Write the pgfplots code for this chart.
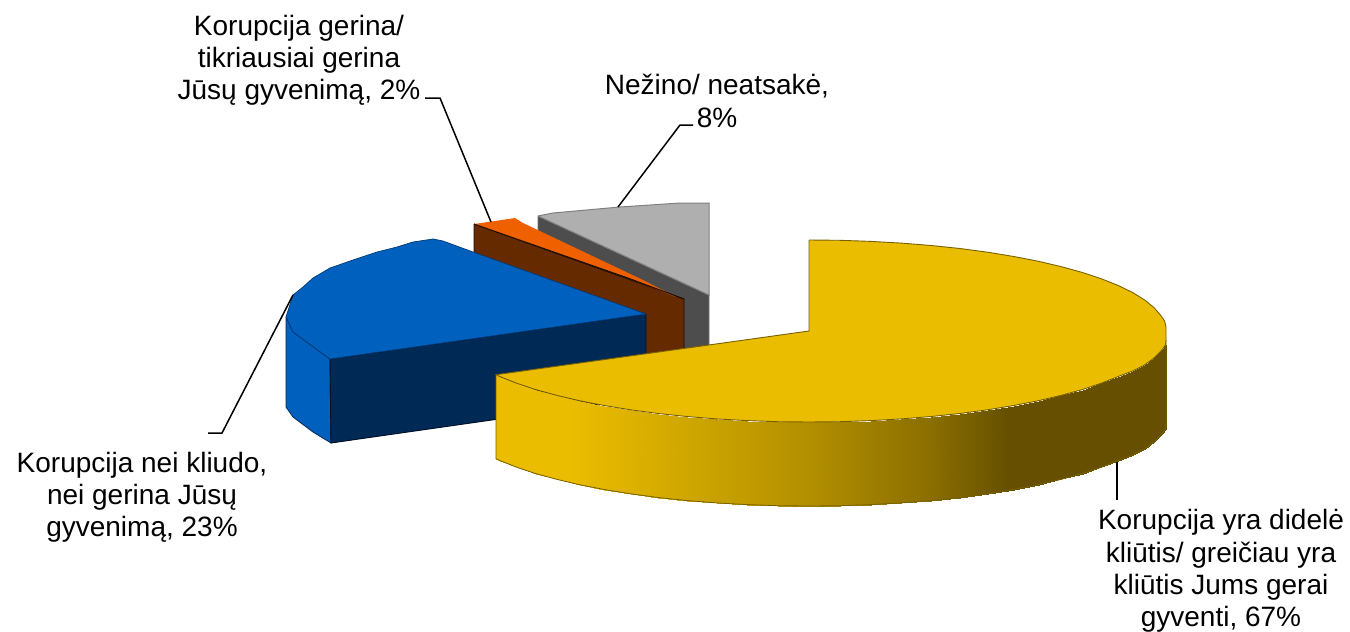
\documentclass[border=0pt]{standalone}
\usepackage{pgfplots}
\pgfplotsset{compat=1.18}
\usepackage{fontspec}
\setmainfont{Liberation Sans}
\definecolor{yel}{RGB}{235,189,0}
\definecolor{yeledge}{RGB}{120,96,0}
\definecolor{blu}{RGB}{0,96,190}
\definecolor{bludark}{RGB}{0,41,85}
\definecolor{org}{RGB}{238,96,0}
\definecolor{brn}{RGB}{102,42,0}
\definecolor{grl}{RGB}{175,175,175}
\definecolor{grd}{RGB}{77,77,77}
\tikzset{lbl/.style={font=\fontsize{28}{32.2}\selectfont, text=black, align=center, inner sep=0pt, anchor=center}}
\begin{document}
\begin{tikzpicture}
\begin{axis}[
  scale only axis, width=1350pt, height=631pt,
  xmin=0, xmax=1350, ymin=0, ymax=631, zmin=-1, zmax=1,
  y dir=reverse, view={0}{90}, axis lines=none,
  clip=true,
  colormap={piewall}{rgb255(0)=(235,189,0) rgb255(74)=(235,189,0) rgb255(314)=(178,143,0) rgb255(430)=(140,112,0) rgb255(511)=(102,80,0) rgb255(670)=(102,80,0)},
  point meta min=496, point meta max=1166,
]
\path (axis cs:0,0,0) coordinate (tl) (axis cs:1350,631,0) coordinate (br);
% light grey slice
\addplot[draw=grd!80, line width=0.8pt, fill=grd] coordinates {(538,216)(709,295)(709,346)(684,352)(538,300)(538,216)};
\addplot[draw=gray, line width=1pt, fill=grl] coordinates {(538,216)(553,213)(620,207)(680,203)(709,203)(709,295)(538,216)};
% brown / orange slice
\addplot[draw=black!70!brn, line width=0.9pt, fill=brn] coordinates {(474,224)(684,299)(684,350)(646,358)(474,309)(474,224)};
\addplot[draw=none, fill=org] coordinates {(474,224)(495,221)(515,218)(523,223)(643,280)(676,297)(628,278)(474,224)};
\addplot[draw=black!70!brn, line width=0.9pt] coordinates {(474,224)(628,278)(684,299)};
% blue slice
\addplot[draw=bludark, line width=0.8pt, fill=blu] coordinates {(286,317)(293,332)(330,359)(331,443)(313,432)(293,417)(286,407)(286,317)};
\addplot[draw=black!60!bludark, line width=0.9pt, fill=bludark] coordinates {(330,359)(646,314)(646,398)(331,443)(330,359)};
\addplot[draw=bludark!70!blu, line width=0.7pt, fill=blu] coordinates {(646,314)(473,252)(443,241)(433,239)(413,242)(397,247)(377,252)(353,260)(330,268)(313,278)(303,287)(293,295)(286,317)(293,332)(330,359)(646,314)};
% yellow wall
\addplot3[surf, shader=interp, mesh/rows=2, point meta=x] table {
1166 340 0
1165.5 345 0
1161 351 0
1154 358 0
1144.5 365 0
1132.6 371 0
1118.2 376.5 0
1101.4 383.2 0
1082.5 389.5 0
1061.4 395.3 0
1038.5 400.7 0
1013.8 405.5 0
987.5 409.8 0
959.9 413.5 0
931.1 416.5 0
901.4 418.9 0
871.0 420.6 0
840.1 421.7 0
809 422 0
777.9 421.7 0
747.0 420.6 0
716.6 418.9 0
686.9 416.5 0
658.1 413.5 0
630.5 409.8 0
604.2 405.5 0
579.5 400.7 0
556.6 395.3 0
535.5 389.5 0
516.6 383.2 0
499.8 376.5 0
496 374.7 0
1166 426 0
1165.5 429 0
1161 435 0
1154 442 0
1144.5 449 0
1132.6 455 0
1118.2 460.5 0
1101.4 467.2 0
1082.5 473.5 0
1061.4 479.3 0
1038.5 484.7 0
1013.8 489.5 0
987.5 493.8 0
959.9 497.5 0
931.1 500.5 0
901.4 502.9 0
871.0 504.6 0
840.1 505.7 0
809 506 0
777.9 505.7 0
747.0 504.6 0
716.6 502.9 0
686.9 500.5 0
658.1 497.5 0
630.5 493.8 0
604.2 489.5 0
579.5 484.7 0
556.6 479.3 0
535.5 473.5 0
516.6 467.2 0
499.8 460.5 0
496 458.7 0
};
\addplot[draw=yeledge, line width=0.8pt] coordinates {(1166,340)(1166,426)(1165.5,429)(1161,435)(1154,442)(1144.5,449)(1132.6,455)(1118.2,460.5)(1101.4,467.2)(1082.5,473.5)(1061.4,479.3)(1038.5,484.7)(1013.8,489.5)(987.5,493.8)(959.9,497.5)(931.1,500.5)(901.4,502.9)(871,504.6)(840.1,505.7)(809,506)(777.9,505.7)(747,504.6)(716.6,502.9)(686.9,500.5)(658.1,497.5)(630.5,493.8)(604.2,489.5)(579.5,484.7)(556.6,479.3)(535.5,473.5)(516.6,467.2)(499.8,460.5)(496,458.7)(496,374.7)};
% yellow top
\addplot[draw=yeledge, line width=0.9pt, fill=yel] coordinates {(809,240)(840.1,240.3)(871,241.4)(901.4,243.1)(931.1,245.5)(959.9,248.5)(987.5,252.2)(1013.8,256.5)(1038.5,261.3)(1061.4,266.7)(1082.5,272.5)(1101.4,278.8)(1118.2,285.5)(1132.6,292.5)(1144.5,299.9)(1153.8,307.4)(1160.6,315.2)(1164.6,321)(1166,327)(1166,340)(1165.5,345)(1161,351)(1154,358)(1144.5,365)(1132.6,371)(1118.2,376.5)(1101.4,383.2)(1082.5,389.5)(1061.4,395.3)(1038.5,400.7)(1013.8,405.5)(987.5,409.8)(959.9,413.5)(931.1,416.5)(901.4,418.9)(871,420.6)(840.1,421.7)(809,422)(777.9,421.7)(747,420.6)(716.6,418.9)(686.9,416.5)(658.1,413.5)(630.5,409.8)(604.2,405.5)(579.5,400.7)(556.6,395.3)(535.5,389.5)(516.6,383.2)(499.8,376.5)(496,374.7)(809,331)(809,240)};
% leader lines
\addplot[black, line width=1.5pt] coordinates {(425,98)(440,98)(491,222)};
\addplot[black, line width=1.5pt] coordinates {(693,125)(680,125)(618,207)};
\addplot[black, line width=1.5pt] coordinates {(293,295)(222,433)(208,433)};
\addplot[black, line width=1.5pt] coordinates {(1117,462)(1117,500)};
% labels
\node[lbl] at (axis cs:299,60) {Korupcija gerina/\\tikriausiai gerina\\Jūsų gyvenimą, 2\%};
\node[lbl] at (axis cs:717,101) {Nežino/ neatsakė,\\8\%};
\node[lbl] at (axis cs:142,497) {Korupcija nei kliudo,\\nei gerina Jūsų\\gyvenimą, 23\%};
\node[lbl] at (axis cs:1221,571) {Korupcija yra didelė\\kliūtis/ greičiau yra\\kliūtis Jums gerai\\gyventi, 67\%};
\end{axis}
\path[use as bounding box] (tl) rectangle (br);
\end{tikzpicture}
\end{document}
